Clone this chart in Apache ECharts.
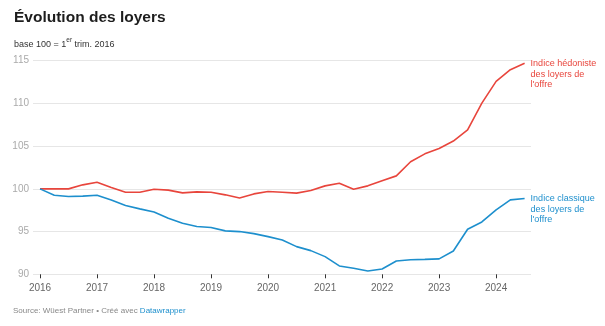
<!DOCTYPE html>
<html><head><meta charset="utf-8">
<script src="https://cdn.jsdelivr.net/npm/echarts@6/dist/echarts.min.js"></script>
<style>html,body{margin:0;padding:0;background:#fff}#c{width:605px;height:326px}</style>
</head><body><div id="c"></div>
<script>
var quarters = [];
for (var y = 2016; y <= 2024; y++) { for (var q = 1; q <= 4; q++) { if (y === 2024 && q === 4) break; quarters.push(y + '-T' + q); } }
var yearTicks = [2016, 2017, 2018, 2019, 2020, 2021, 2022, 2023, 2024];
var yTicks = [90, 95, 100, 105, 110, 115];
var hedoniste = [
  100, 100, 100, 100.47,
  100.78, 100.16, 99.6, 99.6,
  99.96, 99.85, 99.53, 99.65,
  99.6, 99.3, 98.94, 99.41,
  99.69, 99.6, 99.5, 99.8,
  100.35, 100.66, 99.96, 100.35,
  100.94, 101.52, 103.17, 104.1,
  104.73, 105.6, 106.9, 110.04,
  112.58, 113.95, 114.69
];
var classique = [
  100, 99.26, 99.1, 99.15,
  99.26, 98.7, 98.05, 97.66,
  97.3, 96.56, 95.97, 95.6,
  95.47, 95.08, 95.0, 94.76,
  94.41, 94.02, 93.24, 92.77,
  92.07, 90.98, 90.7, 90.39,
  90.62, 91.56, 91.71, 91.75,
  91.8, 92.73, 95.27, 96.13,
  97.54, 98.71, 98.87
];
function toX(label) { var p = label.split('-T'); return +p[0] + (+p[1] - 1) / 4; }
function pairs(vals) { return vals.map(function (v, i) { return [toX(quarters[i]), v]; }); }

var FONT = '"Liberation Sans", Arial, Helvetica, sans-serif';
var RED = '#e8453c', BLUE = '#1d8fcd';
var chart = echarts.init(document.getElementById('c'), null, { renderer: 'canvas' });
chart.setOption({
  animation: false,
  textStyle: { fontFamily: FONT },
  graphic: [
    { type: 'text', left: 14, top: 10, style: { text: 'Évolution des loyers', font: 'bold 15.5px ' + FONT, fill: '#1d1d1d' } },
    { type: 'text', left: 14, top: 37, style: {
        text: '{a|base 100 = 1}{s|er}{a| trim. 2016}',
        rich: { a: { fontSize: 9, fontFamily: FONT, fill: '#333', verticalAlign: 'bottom' , lineHeight: 12},
                s: { fontSize: 6.5, fontFamily: FONT, fill: '#333', verticalAlign: 'top', lineHeight: 12, padding: [0,0,5,0] } } } },
    { type: 'text', left: 13, top: 307, style: {
        text: '{g|Source: Wüest Partner • Créé avec }{b|Datawrapper}',
        rich: { g: { fontSize: 8, fontFamily: FONT, fill: '#888' }, b: { fontSize: 8, fontFamily: FONT, fill: '#1d8fcd' } } } }
  ],
  grid: { left: 33, right: 74, top: 60.7, bottom: 51.7, containLabel: false },
  xAxis: {
    type: 'value', min: 2015.877, max: 2024.612,
    axisLine: { show: false },
    splitLine: { show: false },
    axisTick: { show: true, customValues: yearTicks, length: 4, inside: false, lineStyle: { color: '#333', width: 1 } },
    axisLabel: { customValues: yearTicks, color: '#666', fontSize: 10, margin: 9, fontFamily: FONT, formatter: function (v) { return String(Math.round(v)); } }
  },
  yAxis: {
    type: 'value', min: 90, max: 115, interval: 5,
    axisLine: { show: false }, axisTick: { show: false },
    splitLine: { lineStyle: { color: '#e6e6e6', width: 1 } },
    axisLabel: { color: '#aaa', fontSize: 10, margin: 4, fontFamily: FONT }
  },
  series: [
    { name: 'hed', type: 'line', data: pairs(hedoniste), symbol: 'none', lineStyle: { color: RED, width: 1.6 }, itemStyle: { color: RED },
      endLabel: { show: true, formatter: 'Indice hédoniste\ndes loyers de\nl\'offre', color: RED, fontSize: 9, lineHeight: 10.5, align: 'left', verticalAlign: 'top', offset: [-2, -5], fontFamily: FONT } },
    { name: 'cla', type: 'line', data: pairs(classique), symbol: 'none', lineStyle: { color: BLUE, width: 1.6 }, itemStyle: { color: BLUE },
      endLabel: { show: true, formatter: 'Indice classique\ndes loyers de\nl\'offre', color: BLUE, fontSize: 9, lineHeight: 10.5, align: 'left', verticalAlign: 'top', offset: [-2, -5], fontFamily: FONT } }
  ]
});
</script></body></html>
